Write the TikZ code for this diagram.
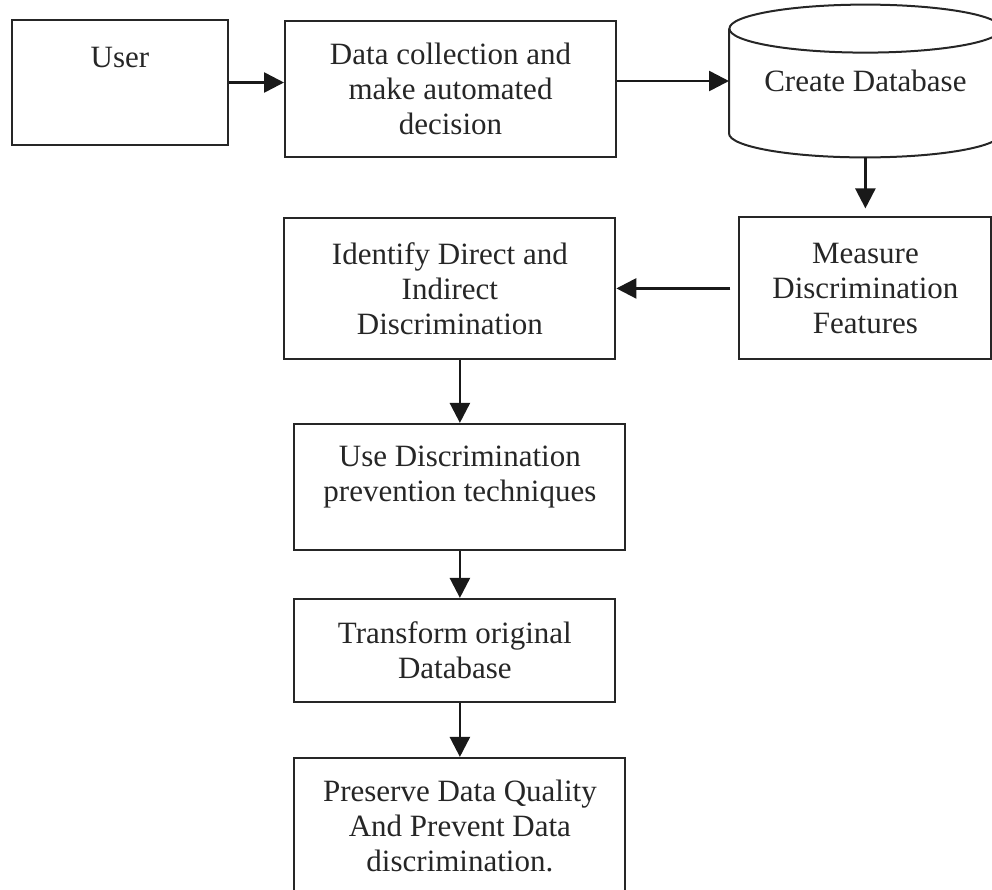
\documentclass[tikz,border=0pt]{standalone}
\usepackage{fontspec}
\setmainfont{Liberation Serif}
\usetikzlibrary{positioning,calc,arrows.meta}

\begin{document}
\begin{tikzpicture}
    [process/.style 2 args={
        draw=black!85,
        line width=1pt,
        text=black!85,
        align=center,
        font=\fontsize{15.5}{17.5}\selectfont,
        inner sep=0pt,
        minimum width=#1,
        minimum height=#2
    },
    database/.style 2 args={
        text=black!85,
        align=center,
        font=\fontsize{15.5}{17.5}\selectfont,
        inner sep=0pt,
        minimum width=#1,
        minimum height=#2
    },
    db outline/.style={draw=black!85,line width=1pt},
    arrow/.style={-{Triangle[length=10pt,width=10pt]},line width=1.3pt,draw=black!90}]

    \useasboundingbox (0,0) rectangle (496pt,-445pt);

    %%% content
    \node (user) [process={108pt}{62.5pt}] at (60pt,-41.25pt) {User\\[8pt]\ };
    \node (collect) [process={165.5pt}{68pt}, right=27.5pt of user, yshift=-3.25pt] {Data collection and\\make automated\\decision};
    \node (db) [database={136pt}{76pt}, right=56pt of collect, yshift=4pt] {Create Database};
    \node (measure) [process={126pt}{71pt}, below=29.5pt of db] {Measure\\Discrimination\\Features};
    \node (identify) [process={165.5pt}{70.5pt}, left=61pt of measure] {Identify Direct and\\Indirect\\Discrimination};
    \node (prevent) [process={165.5pt}{63pt}, below=31.5pt of identify, xshift=5pt] {Use Discrimination\\prevention techniques\\[-4pt]\ };
    \node (transform) [process={160.5pt}{51.5pt}, below=23.5pt of prevent, xshift=-2.5pt] {Transform original\\Database};
    \node (preserve) [process={165.5pt}{68.5pt}, below=27pt of transform, xshift=2.5pt] {Preserve Data Quality\\And Prevent Data\\discrimination.};

    %% cylinder
    \draw[db outline] ($(db.north west)+(0,-12pt)$) -- ($(db.south west)+(0,12pt)$)
        arc[start angle=180,end angle=360,x radius=68pt,y radius=12pt]
        -- ($(db.north east)+(0,-12pt)$);
    \draw[db outline] ($(db.north)+(0,-12pt)$) ellipse[x radius=68pt,y radius=12pt];

    %% lines
    \draw[arrow] (user.east) -- (user.east -| collect.west);
    \draw[arrow] (collect.east |- db.west) -- (db.west);
    \draw[arrow,shorten >=4pt] (db.south) -- (measure.north);
    \draw[arrow,shorten <=4pt] (measure.west) -- (identify.east);
    \draw[arrow] (identify.south -| prevent.north) -- (prevent.north);
    \draw[arrow] (prevent.south) -- (prevent.south |- transform.north);
    \draw[arrow] (transform.south -| preserve.north) -- (preserve.north);
\end{tikzpicture}
\end{document}
